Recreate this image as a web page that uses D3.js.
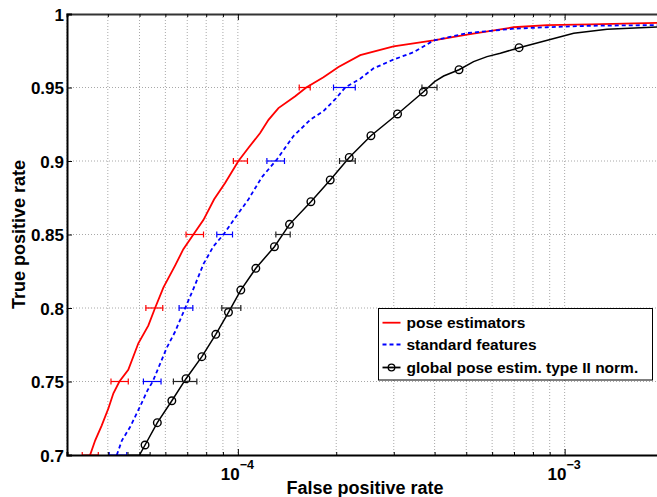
<!DOCTYPE html>
<html><head><meta charset="utf-8">
<script src="https://cdn.jsdelivr.net/npm/d3@7"></script>
<style>
html,body{margin:0;padding:0;background:#fff;}
text{font-family:"Liberation Sans",Arial,Helvetica,sans-serif;font-weight:bold;fill:#000;}
</style></head>
<body>
<svg id="chart" width="657" height="497"></svg>
<script>
// ---------------- data ----------------
const xMajorTicks = [1e-4, 1e-3];
const xMajorLabels = [["10","\u22124"],["10","\u22123"]];
const xGridValues = [3e-5,4e-5,5e-5,6e-5,7e-5,8e-5,9e-5,1e-4,2e-4,3e-4,4e-4,5e-4,6e-4,7e-4,8e-4,9e-4,1e-3,2e-3];
const yTicks = [0.7,0.75,0.8,0.85,0.9,0.95,1];
const yTickLabels = ["0.7","0.75","0.8","0.85","0.9","0.95","1"];

const seriesNames = ["pose estimators","standard features","global pose estim. type II norm."];

const redFPR = [3.53e-5,3.66e-5,3.83e-5,4.02e-5,4.16e-5,4.34e-5,4.62e-5,4.96e-5,5.32e-5,5.58e-5,5.92e-5,6.43e-5,6.81e-5,7.31e-5,7.85e-5,8.46e-5,9.14e-5,1.004e-4,1.078e-4,1.170e-4,1.241e-4,1.331e-4,1.498e-4,1.619e-4,1.828e-4,2.032e-4,2.369e-4,2.995e-4,3.972e-4,5.025e-4,6.983e-4,8.837e-4,1.199e-3,2e-3];
const redTPR = [0.700,0.710,0.720,0.732,0.742,0.750,0.758,0.776,0.788,0.800,0.814,0.829,0.840,0.850,0.860,0.874,0.885,0.900,0.909,0.919,0.928,0.936,0.944,0.950,0.957,0.964,0.972,0.978,0.982,0.986,0.991,0.9925,0.993,0.994];

const blueFPR = [4.26e-5,4.42e-5,4.68e-5,5.02e-5,5.29e-5,5.49e-5,5.78e-5,6.06e-5,6.43e-5,6.90e-5,7.31e-5,7.85e-5,8.42e-5,9.04e-5,9.93e-5,1.078e-4,1.184e-4,1.316e-4,1.480e-4,1.665e-4,1.828e-4,1.986e-4,2.131e-4,2.369e-4,2.601e-4,2.995e-4,3.449e-4,3.972e-4,5.025e-4,6.983e-4,8.837e-4,1.199e-3,2e-3];
const blueTPR = [0.700,0.710,0.719,0.733,0.744,0.750,0.762,0.773,0.784,0.800,0.813,0.830,0.842,0.850,0.863,0.874,0.889,0.901,0.917,0.928,0.934,0.942,0.950,0.956,0.963,0.969,0.974,0.982,0.987,0.990,0.991,0.992,0.9925];

const blackFPR = [5.00e-5,5.20e-5,5.67e-5,6.28e-5,6.94e-5,7.76e-5,8.56e-5,9.36e-5,1.021e-4,1.135e-4,1.294e-4,1.439e-4,1.673e-4,1.917e-4,2.192e-4,2.554e-4,3.081e-4,3.693e-4,4.0e-4,4.263e-4,4.751e-4,5.265e-4,5.787e-4,6.357e-4,7.253e-4,1.066e-3,1.349e-3,2e-3];
const blackTPR = [0.700,0.7068,0.722,0.7369,0.7519,0.7669,0.7821,0.7971,0.8122,0.827,0.8417,0.8569,0.8723,0.8871,0.9024,0.9172,0.932,0.9469,0.954,0.9578,0.9621,0.9676,0.971,0.9733,0.9771,0.9869,0.9896,0.9914];

const markerFPR = [5.20e-5,5.67e-5,6.28e-5,6.94e-5,7.76e-5,8.56e-5,9.36e-5,1.021e-4,1.135e-4,1.294e-4,1.439e-4,1.673e-4,1.917e-4,2.192e-4,2.554e-4,3.081e-4,3.693e-4,4.751e-4,7.253e-4];
const markerTPR = [0.7068,0.722,0.7369,0.7519,0.7669,0.7821,0.7971,0.8122,0.827,0.8417,0.8569,0.8723,0.8871,0.9024,0.9172,0.932,0.9469,0.9621,0.9771];

const errLevels = [0.7,0.75,0.8,0.85,0.9,0.95];
const redErrLo = [3.34e-5,4.09e-5,5.23e-5,6.94e-5,9.69e-5,1.541e-4];
const redErrHi = [3.74e-5,4.62e-5,5.89e-5,7.85e-5,1.070e-4,1.665e-4];
const blueErrLo = [4.04e-5,5.14e-5,6.61e-5,8.62e-5,1.227e-4,1.962e-4];
const blueErrHi = [4.57e-5,5.82e-5,7.28e-5,9.63e-5,1.389e-4,2.287e-4];
const blackErrLo = [4.61e-5,6.35e-5,8.93e-5,1.307e-4,2.047e-4,3.659e-4];
const blackErrHi = [5.39e-5,7.49e-5,1.021e-4,1.446e-4,2.287e-4,4.069e-4];

// ---------------- layout ----------------
const L = 67, R = 663, T = 14, B = 455;
const svg = d3.select("#chart");
const x = d3.scaleLog().domain([3e-5, 2e-3]).range([L, R]);
const y = d3.scaleLinear().domain([0.7, 1]).range([B, T]);

svg.append("defs").append("clipPath").attr("id","clip")
  .append("rect").attr("x",L).attr("y",T).attr("width",R-L).attr("height",B-T);

// grid
const grid = svg.append("g");
grid.selectAll("line.vg").data(xGridValues).enter().append("line")
  .attr("x1",d=>x(d)).attr("x2",d=>x(d)).attr("y1",T).attr("y2",B)
  .attr("stroke","#a8a8a8").attr("stroke-width",1).attr("stroke-dasharray","1,2");
grid.selectAll("line.hg").data(yTicks.slice(1,-1)).enter().append("line")
  .attr("x1",L).attr("x2",R).attr("y1",d=>y(d)).attr("y2",d=>y(d))
  .attr("stroke","#a8a8a8").attr("stroke-width",1).attr("stroke-dasharray","1,2");

// plot contents
const plot = svg.append("g").attr("clip-path","url(#clip)");
const line = d3.line().x(d=>x(d[0])).y(d=>y(d[1]));

plot.append("path").datum(redFPR.map((v,i)=>[v,redTPR[i]]))
  .attr("d",line).attr("fill","none").attr("stroke","#ff0000").attr("stroke-width",1.8);
plot.append("path").datum(blueFPR.map((v,i)=>[v,blueTPR[i]]))
  .attr("d",line).attr("fill","none").attr("stroke","#0000ff").attr("stroke-width",1.8)
  .attr("stroke-dasharray","4,3");
plot.append("path").datum(blackFPR.map((v,i)=>[v,blackTPR[i]]))
  .attr("d",line).attr("fill","none").attr("stroke","#000").attr("stroke-width",1.5);
plot.selectAll("circle.m").data(markerFPR.map((v,i)=>[v,markerTPR[i]])).enter().append("circle")
  .attr("cx",d=>x(d[0])).attr("cy",d=>y(d[1])).attr("r",3.8)
  .attr("fill","none").attr("stroke","#000").attr("stroke-width",1.4);

function errBars(lo, hi, color){
  const g = plot.append("g").attr("stroke",color).attr("stroke-width",1.2).attr("fill","none");
  errLevels.forEach((t,i)=>{
    const yy = y(t), a = x(lo[i]), b = x(hi[i]);
    g.append("line").attr("x1",a).attr("x2",b).attr("y1",yy).attr("y2",yy);
    g.append("line").attr("x1",a).attr("x2",a).attr("y1",yy-3).attr("y2",yy+3);
    g.append("line").attr("x1",b).attr("x2",b).attr("y1",yy-3).attr("y2",yy+3);
  });
}
errBars(redErrLo, redErrHi, "#ff0000");
errBars(blueErrLo, blueErrHi, "#0000ff");
errBars(blackErrLo, blackErrHi, "#222");

// axes
const xAxisB = svg.append("g").attr("transform",`translate(0,${B})`)
  .call(d3.axisBottom(x).tickValues(xGridValues).tickSize(-3).tickFormat(""));
xAxisB.selectAll(".tick line").attr("stroke","#000").attr("y2",d=>xMajorTicks.includes(d)?-6:-3);
xAxisB.select(".domain").attr("stroke","#000").attr("stroke-width",2);
xAxisB.selectAll(".tick").filter(d=>xMajorTicks.includes(d)).each(function(d){
  const lab = xMajorLabels[xMajorTicks.indexOf(d)];
  const t = d3.select(this).append("text").attr("y",25).attr("x",-1).attr("text-anchor","middle")
    .style("font-size","17px");
  t.append("tspan").text(lab[0]);
  t.append("tspan").attr("dy",-11).style("font-size","12.5px").text(lab[1]);
});

const xAxisT = svg.append("g").attr("transform",`translate(0,${T})`)
  .call(d3.axisTop(x).tickValues(xGridValues).tickSize(-3).tickFormat(""));
xAxisT.selectAll(".tick line").attr("stroke","#000").attr("y2",d=>xMajorTicks.includes(d)?6:3);
xAxisT.select(".domain").attr("stroke","#333").attr("stroke-width",2);

const yAxis = svg.append("g").attr("transform",`translate(${L},0)`)
  .call(d3.axisLeft(y).tickValues(yTicks).tickSize(-5).tickPadding(3)
    .tickFormat((d,i)=>yTickLabels[i]));
yAxis.select(".domain").attr("stroke","#000").attr("stroke-width",2);
yAxis.selectAll(".tick line").attr("stroke","#000");
yAxis.selectAll(".tick text").style("font-size","17px").attr("font-family",null).attr("dy","0.36em");

// axis labels
svg.append("text").attr("x",(L+R)/2).attr("y",494).attr("text-anchor","middle")
  .style("font-size","18px").text("False positive rate");
svg.append("text").attr("transform",`translate(25,${(T+B)/2}) rotate(-90)`).attr("text-anchor","middle")
  .style("font-size","18px").text("True positive rate");

// legend
const lg = svg.append("g");
lg.append("rect").attr("x",378.5).attr("y",308.5).attr("width",274).attr("height",71.5)
  .attr("fill","#fff").attr("stroke","#000").attr("stroke-width",1);
const rowsY = [322.7,344.5,367.5];
const colors = ["#ff0000","#0000ff","#000"];
seriesNames.forEach((n,i)=>{
  const l = lg.append("line").attr("x1",382.5).attr("x2",400.5).attr("y1",rowsY[i]).attr("y2",rowsY[i])
    .attr("stroke",colors[i]).attr("stroke-width",1.8);
  if(i===1) l.attr("stroke-dasharray","4,3");
  if(i===2) lg.append("circle").attr("cx",391.5).attr("cy",rowsY[i]).attr("r",3.3)
    .attr("fill","none").attr("stroke","#000").attr("stroke-width",1.3);
  lg.append("text").attr("x",406.5).attr("y",rowsY[i]).attr("dy","0.35em")
    .style("font-size","15.5px").text(n);
});
</script>
</body></html>
